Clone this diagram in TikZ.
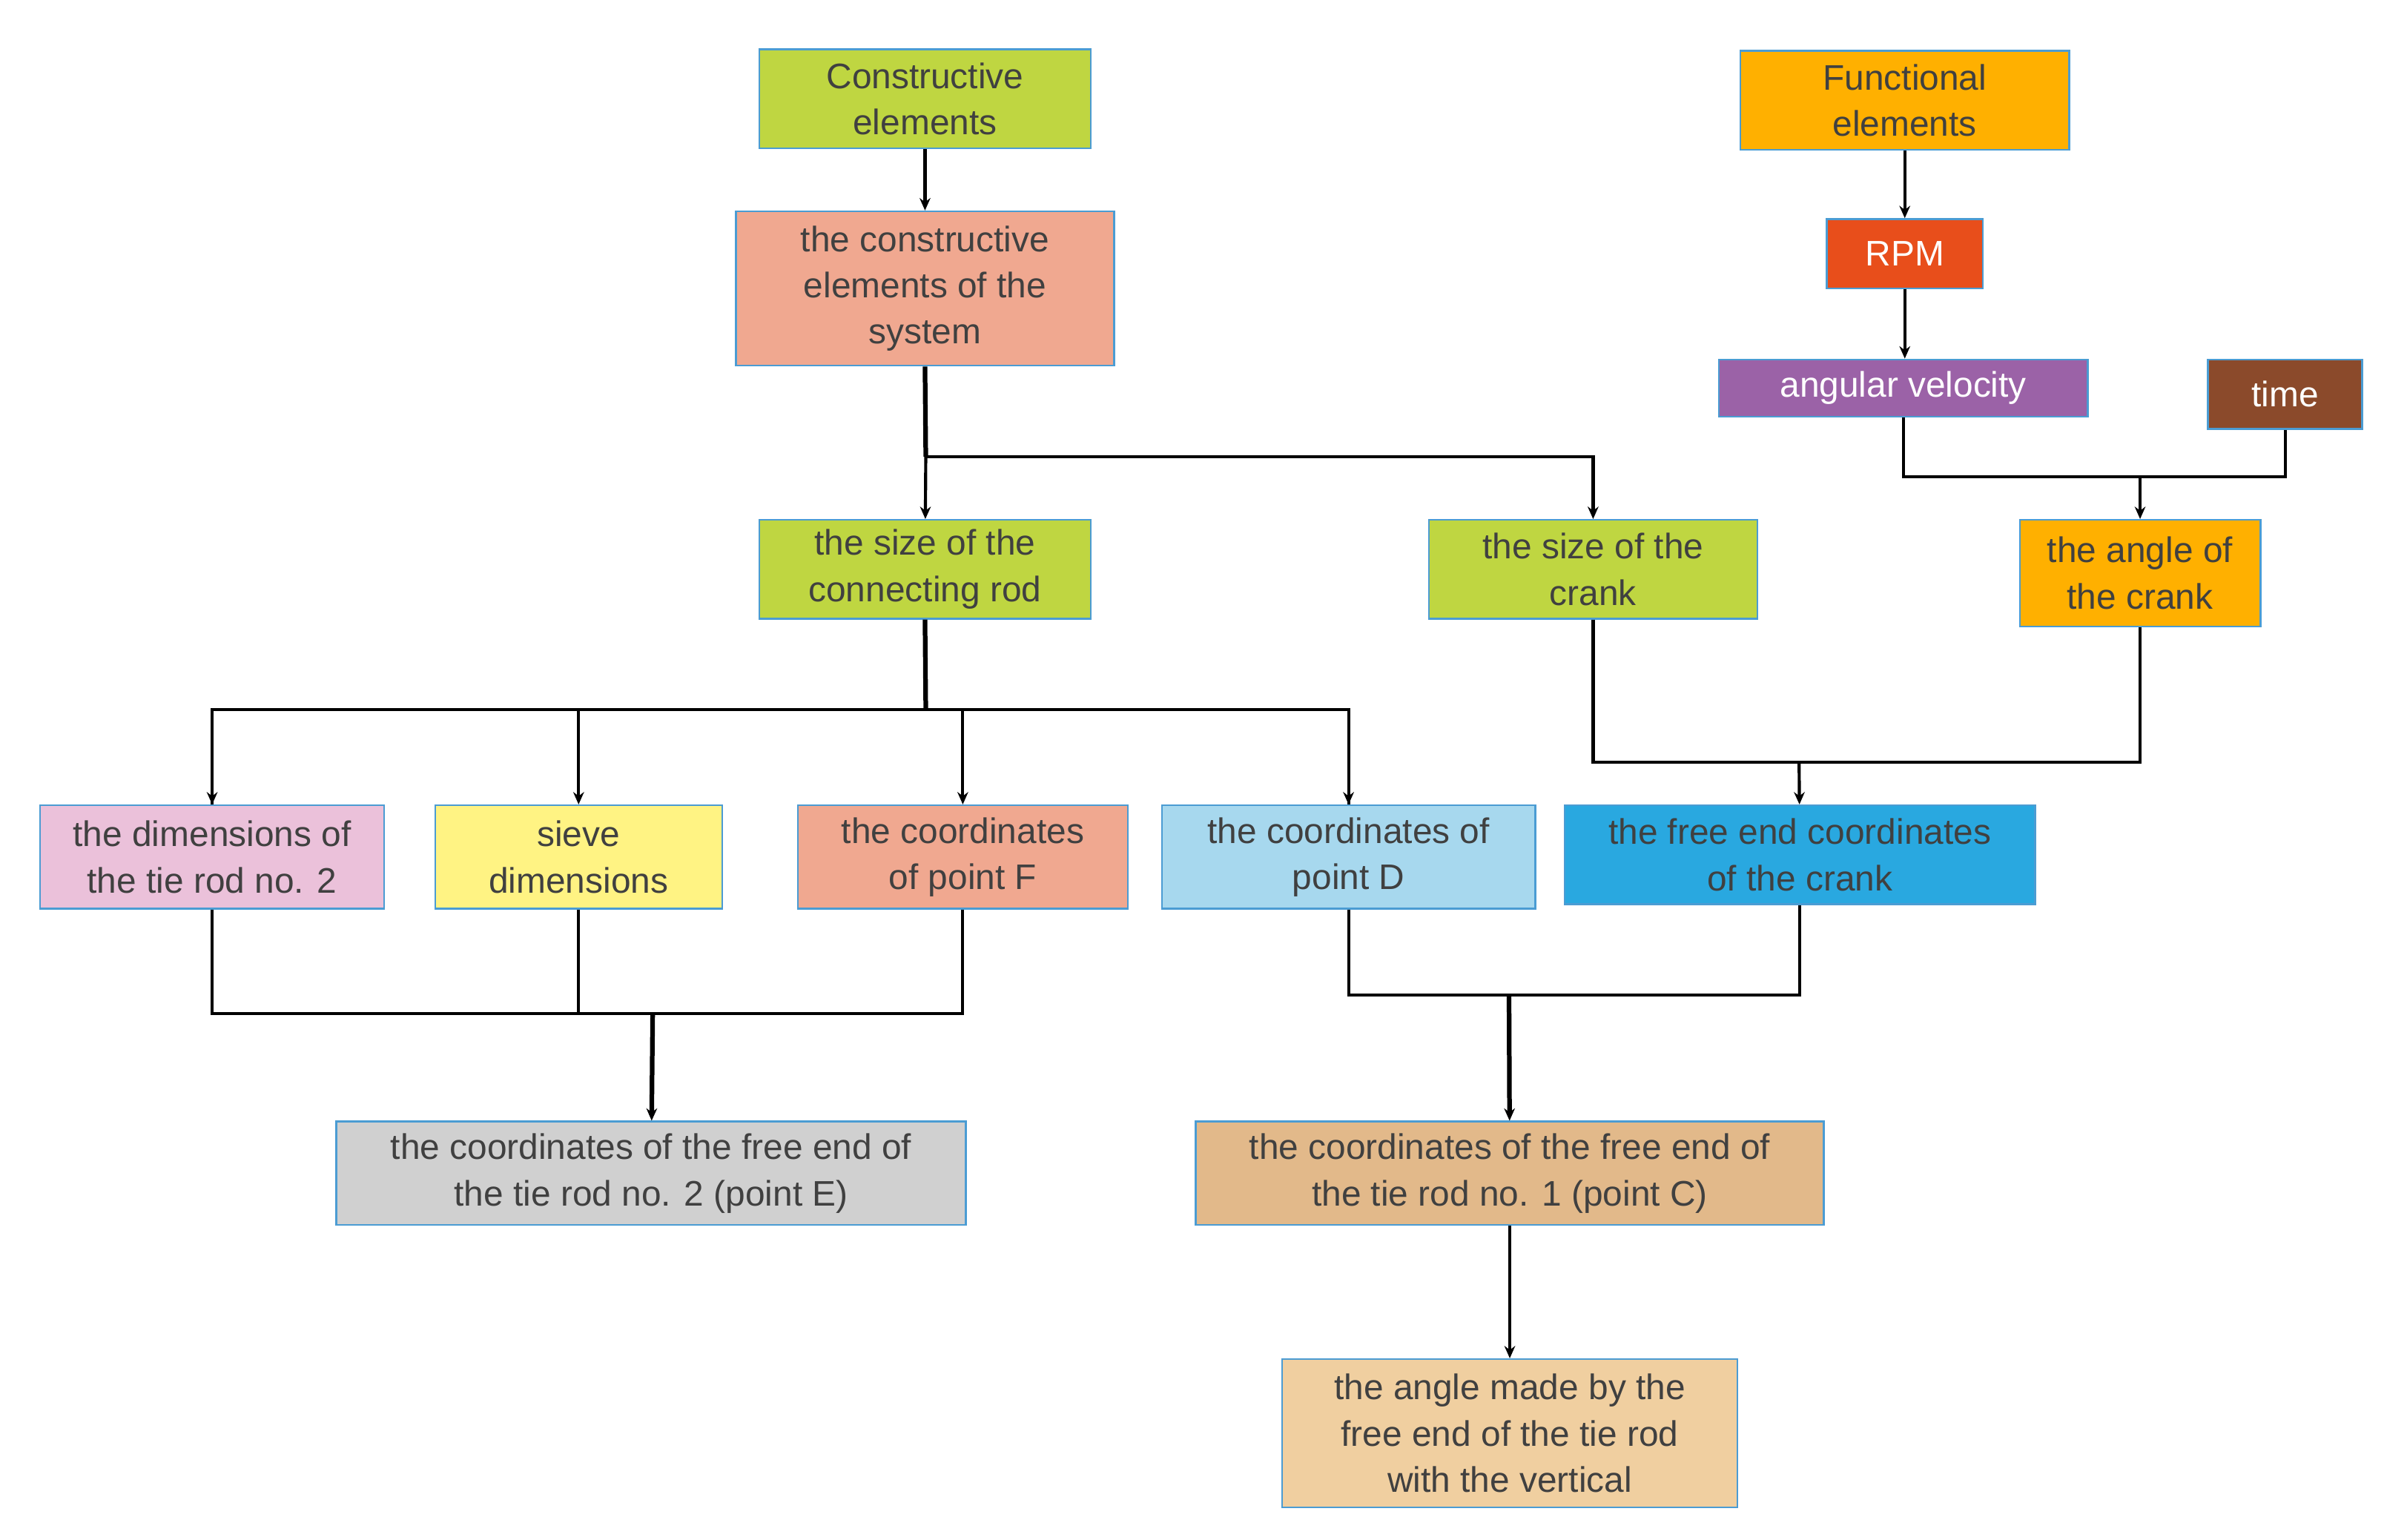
\documentclass[tikz,border=0pt]{standalone}
\usepackage{fontspec}
\setmainfont{Liberation Sans}
\usetikzlibrary{arrows.meta}
\definecolor{bl}{HTML}{4B9CD3}
\definecolor{tx}{HTML}{404040}
\definecolor{cgreen}{HTML}{BFD641}
\definecolor{csalmon}{HTML}{F0A890}
\definecolor{corange}{HTML}{FFB000}
\definecolor{cred}{HTML}{E84E1B}
\definecolor{cpurple}{HTML}{9B62A7}
\definecolor{cbrown}{HTML}{8B4A2B}
\definecolor{cpink}{HTML}{EBC1DA}
\definecolor{cyellow}{HTML}{FFF383}
\definecolor{clblue}{HTML}{A7D8EE}
\definecolor{cblue}{HTML}{29A8E0}
\definecolor{cgray}{HTML}{D0D0D0}
\definecolor{ctan}{HTML}{E2B98A}
\definecolor{cltan}{HTML}{F0CFA0}
\newcommand\mybx[8][tx]{\node[box,fill=#7,text=#1,minimum width={(#5-#3)*1pt},minimum height={(#6-#4)*1pt}] (#2) at ({(#3+#5)/2},{(#4+#6)/2}) {#8};}
\begin{document}
\begin{tikzpicture}[x=1pt,y=-1pt,
 box/.style={draw=bl,line width=1.2pt,align=center,inner sep=0pt,font=\fontsize{23}{30}\selectfont},
 ln/.style={line width=2pt,black},
 ar/.style={ln,-{Stealth[length=8pt,width=7pt]}},
 thk/.style={line width=3pt}]
\useasboundingbox (0,0) rectangle (1560,998);
\mybx{ce}{492}{32}{707}{96}{cgreen}{Constructive\\elements}
\mybx{cs}{477}{137}{722}{237}{csalmon}{the constructive\\elements of the\\system}
\mybx{fe}{1128}{33}{1341}{97}{corange}{Functional\\elements}
\mybx[white]{rpm}{1184}{142}{1285}{187}{cred}{RPM}
\mybx[white]{av}{1114}{233}{1353}{270}{cpurple}{angular velocity}
\mybx[white]{time}{1431}{233}{1531}{278}{cbrown}{time}
\mybx{scr}{492}{337}{707}{401}{cgreen}{the size of the\\connecting rod}
\mybx{sc}{926}{337}{1139}{401}{cgreen}{the size of the\\crank}
\mybx{ac}{1309}{337}{1465}{406}{corange}{the angle of\\the crank}
\mybx{tr}{26}{522}{249}{589}{cpink}{the dimensions of\\the tie rod no. 2}
\mybx{sd}{282}{522}{468}{589}{cyellow}{sieve\\dimensions}
\mybx{pf}{517}{522}{731}{589}{csalmon}{the coordinates\\of point F}
\mybx{pd}{753}{522}{995}{589}{clblue}{the coordinates of\\point D}
\mybx{fec}{1014}{522}{1319}{586}{cblue}{the free end coordinates\\of the crank}
\mybx{pe}{218}{727}{626}{794}{cgray}{the coordinates of the free end of\\the tie rod no. 2 (point E)}
\mybx{pc}{775}{727}{1182}{794}{ctan}{the coordinates of the free end of\\the tie rod no. 1 (point C)}
\mybx{ang}{831}{881}{1126}{977}{cltan}{the angle made by the\\free end of the tie rod\\with the vertical}
\coordinate (j1) at (600,296);
\coordinate (j2) at (600,460);
\coordinate (j3) at (1387,309);
\coordinate (j4) at (1166,494);
\coordinate (j5) at (423,657);
\coordinate (j6) at (978,645);
\draw[ar] (ce) -- (ce |- cs.north);
\draw[ln,thk] (cs.south) -- (j1);
\draw[ar] (j1) -- (scr);
\draw[ar] (j1) -| (sc);
\draw[ar] (fe) -- (rpm);
\draw[ar] (rpm) -- (rpm |- av.north);
\draw[ln] (av.south) |- (j3) -| (time.south);
\draw[ar] (j3) -- (ac);
\draw[ln,thk] (scr.south) -- (j2);
\draw[ln] (tr.north) |- (j2) -| (pd.north);
\draw[ar] (j2 -| tr) -- (tr);
\draw[ar] (j2 -| sd) -- (sd);
\draw[ar] (j2 -| pf) -- (pf);
\draw[ar] (j2 -| pd) -- (pd);
\draw[ln] (sc.south) |- (j4) -| (ac.south);
\draw[ar] (j4) -- (fec);
\draw[ln] (tr.south) |- (j5) -| (pf.south);
\draw[ln] (sd.south) -- (sd.south |- j5);
\draw[ar,thk] (j5) -- (pe);
\draw[ln] (pd.south) |- (j6) -| (fec.south);
\draw[ar,thk] (j6) -- (pc);
\draw[ar] (pc) -- (ang);
\end{tikzpicture}
\end{document}
